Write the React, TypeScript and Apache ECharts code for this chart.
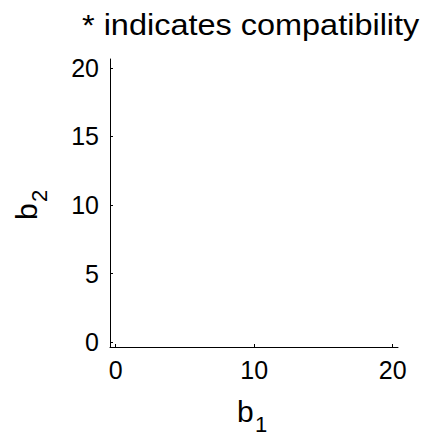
import React, { useEffect, useRef } from "react";
import * as echarts from "echarts";

const titleText = "* indicates compatibility";
const xTicks = [0, 10, 20];
const yTicks = [0, 5, 10, 15, 20];
const points: number[][] = [];
const xRange = [-0.41, 20.38];
const yRange = [-0.36, 20.65];

const FONT = "'Liberation Sans', Arial, Helvetica, sans-serif";

export default function App() {
  const ref = useRef<HTMLDivElement>(null);
  useEffect(() => {
    if (!ref.current) return;
    const chart = echarts.init(ref.current, null, { renderer: "svg" });
    chart.setOption({
      animation: false,
      backgroundColor: "#ffffff",
      grid: { left: 110, top: 59, right: 36, bottom: 90, containLabel: false },
      xAxis: {
        type: "value",
        min: xRange[0],
        max: xRange[1],
        axisLine: { show: true, onZero: false, lineStyle: { color: "#000", width: 1 } },
        axisTick: { show: true, inside: true, length: 3, customValues: xTicks, lineStyle: { color: "#000" } },
        axisLabel: {
          show: true,
          customValues: xTicks,
          color: "#000",
          fontFamily: FONT,
          fontSize: 25,
          margin: 10,
        },
        splitLine: { show: false },
      },
      yAxis: {
        type: "value",
        min: yRange[0],
        max: yRange[1],
        axisLine: { show: true, onZero: false, lineStyle: { color: "#000", width: 1 } },
        axisTick: { show: true, inside: true, length: 3, customValues: yTicks, lineStyle: { color: "#000" } },
        axisLabel: {
          show: true,
          customValues: yTicks,
          color: "#000",
          fontFamily: FONT,
          fontSize: 25,
          margin: 11,
        },
        splitLine: { show: false },
      },
      series: [
        {
          type: "scatter",
          data: points,
          symbol: "none",
        },
      ],
      graphic: [
        {
          type: "text",
          x: 82,
          y: 25,
          scaleX: 1.12,
          style: {
            text: titleText,
            font: `29px ${FONT}`,
            fill: "#000",
            textAlign: "left",
            textVerticalAlign: "middle",
          },
        },
        {
          type: "text",
          x: 237,
          y: 411,
          style: { text: "b", font: `30px ${FONT}`, fill: "#000", textAlign: "left", textVerticalAlign: "middle" },
        },
        {
          type: "text",
          x: 255,
          y: 424,
          style: { text: "1", font: `22px ${FONT}`, fill: "#000", textAlign: "left", textVerticalAlign: "middle" },
        },
        {
          type: "group",
          x: 26,
          y: 220,
          rotation: Math.PI / 2,
          children: [
            {
              type: "text",
              x: 0,
              y: 0,
              style: { text: "b", font: `30px ${FONT}`, fill: "#000", textAlign: "left", textVerticalAlign: "middle" },
            },
            {
              type: "text",
              x: 18,
              y: 13,
              style: { text: "2", font: `22px ${FONT}`, fill: "#000", textAlign: "left", textVerticalAlign: "middle" },
            },
          ],
        },
      ],
    });
    return () => chart.dispose();
  }, []);
  return <div ref={ref} style={{ position: "absolute", left: 0, top: 0, width: 434, height: 437 }} />;
}
